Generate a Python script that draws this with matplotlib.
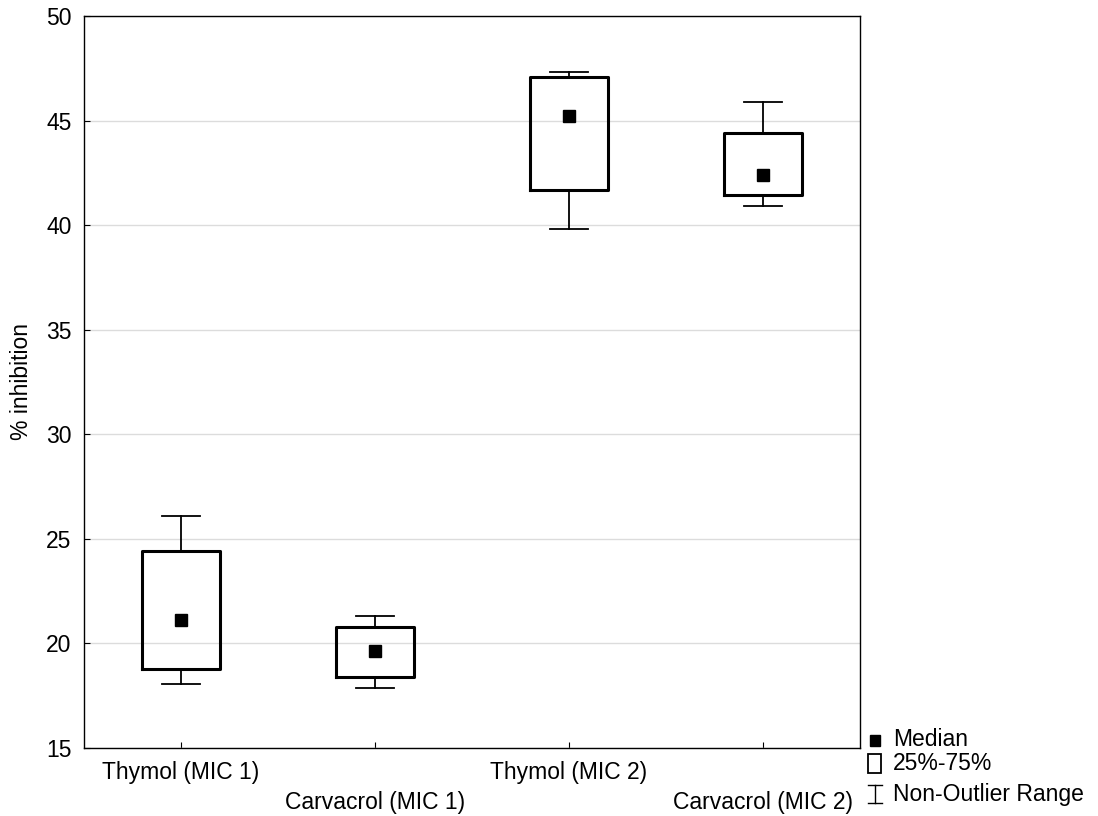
import matplotlib
matplotlib.use("Agg")
import matplotlib.pyplot as plt
import matplotlib.transforms as mtransforms
from matplotlib.lines import Line2D
from matplotlib.patches import Rectangle

plt.rcParams['font.family'] = ['Liberation Sans', 'DejaVu Sans']

categories = ["Thymol (MIC 1)", "Carvacrol (MIC 1)", "Thymol (MIC 2)", "Carvacrol (MIC 2)"]
whisker_low = [18.05, 17.85, 39.8, 40.9]
q1 = [18.8, 18.4, 41.7, 41.45]
median = [21.1, 19.65, 45.2, 42.4]
q3 = [24.4, 20.8, 47.1, 44.4]
whisker_high = [26.1, 21.3, 47.3, 45.9]
yticks = [15, 20, 25, 30, 35, 40, 45, 50]

FS = 16.5

fig = plt.figure(figsize=(10.98, 8.16), dpi=100)
ax = fig.add_axes([84/1098, 68/816, 776/1098, 732/816])

stats = []
for i, c in enumerate(categories):
    stats.append(dict(label=c, whislo=whisker_low[i], q1=q1[i], med=median[i],
                      q3=q3[i], whishi=whisker_high[i], fliers=[]))
pos = list(range(1, len(categories) + 1))
ax.bxp(stats, positions=pos, widths=0.4, showfliers=False,
       boxprops=dict(color='black', linewidth=2.2),
       whiskerprops=dict(color='black', linewidth=1.3),
       capprops=dict(color='black', linewidth=1.3),
       medianprops=dict(linewidth=0), capwidths=0.2, zorder=3)
ax.plot(pos, median, linestyle='none', marker='s', markersize=9, color='black', zorder=4)

ax.set_xlim(0.5, 4.5)
ax.set_ylim(15, 50)
ax.set_yticks(yticks)
ax.set_xticks(pos)
ax.set_xticklabels([])
ax.tick_params(axis='both', direction='in', length=4, width=0.8, labelsize=FS)
ax.tick_params(axis='y', pad=9)
ax.yaxis.grid(True, color='#dcdcdc', linewidth=1)
ax.set_axisbelow(True)
for s in ax.spines.values():
    s.set_linewidth(1.0)
ax.set_ylabel("% inhibition", fontsize=FS, labelpad=9)

# staggered category labels
trans = mtransforms.blended_transform_factory(ax.transData, fig.transFigure)
for i, c in enumerate(categories):
    ypix = 773 if i % 2 == 0 else 802
    fig.text(pos[i], 1 - ypix / 816, c, transform=trans, ha='center', va='center', fontsize=FS)

# legend drawn manually outside axes (figure coordinates)
def fx(px):
    return px / 1098
def fy(py):
    return 1 - py / 816
fig.patches.append(Rectangle((fx(869.5), fy(745.5)), fx(10.5), 10.5/816, transform=fig.transFigure, color='black'))
fig.patches.append(Rectangle((fx(867.5), fy(773)), fx(13.5), 19/816, transform=fig.transFigure,
                             fill=False, edgecolor='black', linewidth=1.3))
fig.lines.append(Line2D([fx(874.5), fx(874.5)], [fy(785), fy(803)], transform=fig.transFigure, color='black', lw=1))
fig.lines.append(Line2D([fx(867.5), fx(881.5)], [fy(785), fy(785)], transform=fig.transFigure, color='black', lw=1))
fig.lines.append(Line2D([fx(867.5), fx(881.5)], [fy(803), fy(803)], transform=fig.transFigure, color='black', lw=1))
fig.text(fx(893), fy(740), "Median", fontsize=FS, va='center', ha='left')
fig.text(fx(893), fy(764), "25%-75%", fontsize=FS, va='center', ha='left')
fig.text(fx(893), fy(794), "Non-Outlier Range", fontsize=FS, va='center', ha='left')

fig.savefig("out.png", dpi=100)
